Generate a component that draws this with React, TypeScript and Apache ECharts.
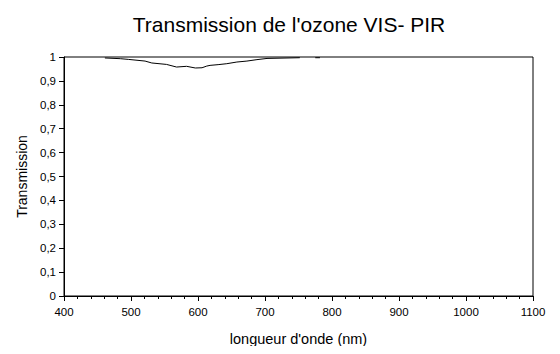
import React, { useEffect, useRef } from "react";
import * as echarts from "echarts";

const wavelengths = [461, 484, 496, 521, 531, 553, 568, 583, 596, 606, 613, 618, 630, 643, 658, 673, 688, 703, 752, null, 775, 782];
const transmission = [0.996, 0.993, 0.99, 0.983, 0.975, 0.969, 0.958, 0.961, 0.954, 0.955, 0.962, 0.965, 0.968, 0.972, 0.979, 0.983, 0.989, 0.994, 0.997, null, 0.997, 0.997];

const titleText = "Transmission de l'ozone VIS- PIR";
const xName = "longueur d'onde (nm)";
const yName = "Transmission";

export default function App() {
  const ref = useRef<HTMLDivElement>(null);
  useEffect(() => {
    if (!ref.current) return;
    const chart = echarts.init(ref.current, null, { renderer: "svg" });
    const data = wavelengths.map((w, i) => (w === null ? [null, null] : [w, transmission[i]]));
    chart.setOption({
      animation: false,
      backgroundColor: "#fff",
      textStyle: { fontFamily: "Liberation Sans, Arial, sans-serif", color: "#000" },
      title: {
        text: titleText,
        left: 284,
        textAlign: "center",
        top: 9,
        textStyle: { fontSize: 21, fontWeight: "normal", color: "#000", fontFamily: "Liberation Sans, Arial, sans-serif" },
      },
      grid: {
        left: 64,
        right: 27,
        top: 57,
        bottom: 58,
        show: true,
        borderColor: "#000",
        borderWidth: 1,
        backgroundColor: "transparent",
      },
      xAxis: {
        type: "value",
        min: 400,
        max: 1100,
        interval: 100,
        name: xName,
        nameLocation: "middle",
        nameGap: 35,
        nameTextStyle: { fontSize: 14.5, color: "#000" },
        axisLine: { show: true, onZero: false, lineStyle: { color: "#000", width: 1 } },
        axisTick: { show: true, length: 5, lineStyle: { color: "#000" } },
        minorTick: { show: true, splitNumber: 5, length: 3, lineStyle: { color: "#000" } },
        axisLabel: { fontSize: 11.5, color: "#000", margin: 10, formatter: (v: number) => String(v) },
        splitLine: { show: false },
      },
      yAxis: {
        type: "value",
        min: 0,
        max: 1,
        interval: 0.1,
        name: yName,
        nameLocation: "middle",
        nameGap: 33,
        nameTextStyle: { fontSize: 14, color: "#000" },
        axisLine: { show: true, lineStyle: { color: "#000", width: 1 } },
        axisTick: { show: true, length: 5, lineStyle: { color: "#000" } },
        axisLabel: {
          fontSize: 11.5,
          color: "#000",
          margin: 8,
          formatter: (v: number) => String(Math.round(v * 10) / 10).replace(".", ","),
        },
        splitLine: { show: false },
      },
      series: [
        {
          type: "line",
          data,
          showSymbol: false,
          connectNulls: false,
          lineStyle: { color: "#000", width: 1 },
        },
      ],
    });
    return () => chart.dispose();
  }, []);
  return <div ref={ref} style={{ width: 560, height: 354, margin: -8 }} />;
}
